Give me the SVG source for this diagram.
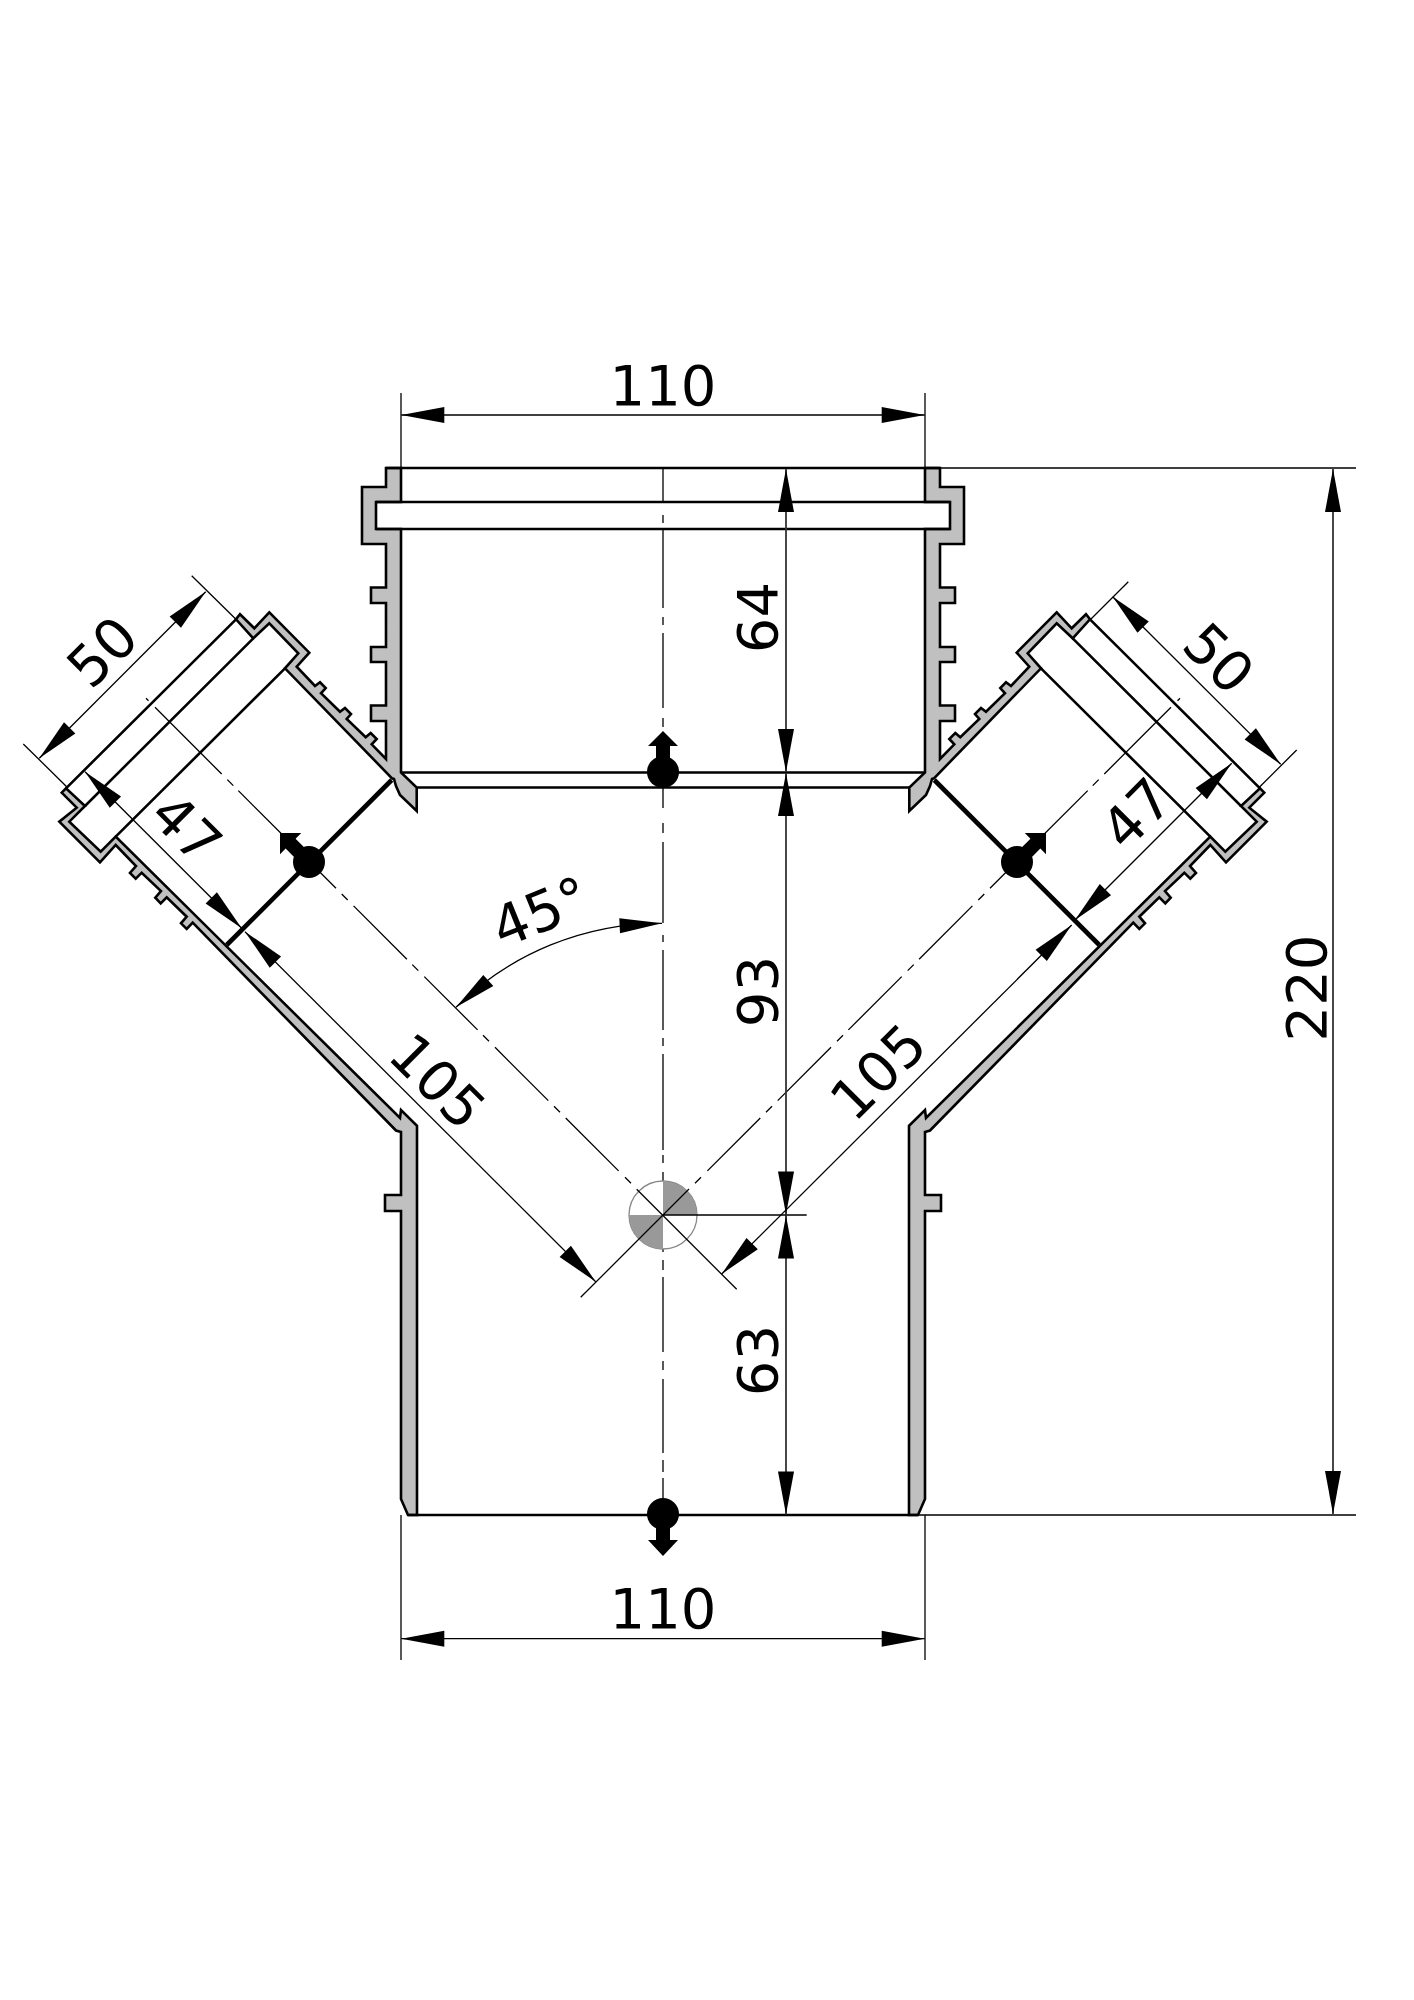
<svg xmlns="http://www.w3.org/2000/svg" xmlns:xlink="http://www.w3.org/1999/xlink" width="1414" height="2000" viewBox="0 0 1414 2000">
<style>
.wall{fill:#c0c0c0;stroke:#000;stroke-width:2.6;stroke-linejoin:miter}
.edge{fill:none;stroke:#000;stroke-width:2.6}
.bold{fill:none;stroke:#000;stroke-width:4.6}
.axis{fill:none;stroke:#000;stroke-width:1.3}
.thin{fill:none;stroke:#000;stroke-width:1.3}
.dima{fill:none;stroke:#000;stroke-width:1.3;marker-start:url(#arr);marker-end:url(#arr)}
.dimv{fill:none;stroke:#333;stroke-width:1.8;marker-start:url(#arr);marker-end:url(#arr)}
.lbl{font-family:"DejaVu Sans","Liberation Sans",sans-serif;font-size:56px;text-anchor:middle;fill:#000}
</style>
<defs>
<marker id="arr" markerUnits="userSpaceOnUse" viewBox="-44 -9 45 18" refX="0" refY="0" markerWidth="45" markerHeight="18" orient="auto-start-reverse"><path d="M0,0L-43,-8V8Z" fill="#000"/></marker>
<g id="mark"><circle cx="0" cy="0" r="16" fill="#000"/><path d="M-7,-10V-26H-15L0,-41L15,-26H7V-10Z" fill="#000"/></g>
<g id="half">
<path class="wall" d="M401,468H386V487H362V544H386V587.5H371V603H386V647H371V662H386V705.5H371V721H386V759L371.7,744.3L376.7,739L370.7,733L365.7,737.3L346.7,719L351,714L345,708L340,711.7L321,693.3L325.7,688L320,682.3L315,686L296.7,666.7L309.3,652.7L269.3,612.3L254.3,628.3L240,614.3L236,619.3L253.3,638.3L269.3,623.3L298.3,653.3L285,668.3L392,778.3L394,779L396,786L400,795L416.7,811V787.5L401,772.5V529H376V502H401Z"/>
<path class="wall" d="M61.7,792.7L76.7,807.7L59.3,821.7L100,862.3L115.7,845L136,866L130,873L135.7,878.7L141.7,872.7L161,891L155.3,897.7L160.7,903.3L166.7,897.3L186.7,916.7L181,923.3L186.7,929L192.7,922.7L396,1130.5L401,1132V1195H385V1211H401V1499L408,1515H417V1125.7L401,1110L400,1118L115.7,836.7L100.7,851.7L69.3,821.7L85,806L66,788.3Z"/>
<path class="edge" d="M236,619.3L66,788.3M253.3,638.3L85,806M285,668.3L115.7,836.7"/>
<path class="bold" d="M226.7,945L391.7,780"/>
<path class="axis" d="M146,698.3L148.5,700.8M155,707.3L221.7,774M227.3,779.6L233.3,785.6M238.3,790.6L300,852.3M320,872.3L336,888.3M341.7,894L347.7,900M353.6,905.9L406.9,959.2M412.3,964.6L418.3,970.6M424.3,976.6L477.6,1029.9M483,1035.3L489,1041.3M495,1047.3L548.3,1100.6M554,1106.3L560,1112.3M565.7,1118L618.6,1170.9M625,1177.3L631,1183.3"/>
</g>
</defs>
<rect width="1414" height="2000" fill="#fff"/>
<g id="body">
<use xlink:href="#half" href="#half"/>
<use xlink:href="#half" href="#half" transform="translate(1326,0) scale(-1,1)"/>
<path class="edge" d="M386,468H940M376,502H950M376,529H950M401,772.5H925M416.7,787.5H909.3M408,1515H918"/>
<path class="axis" d="M663,468V502M663,515V523M663,530V608M663,617V625M663,633V708M663,718V727M663,788V808M663,823V833M663,842V923M663,935V942M663,950V1030M663,1038V1046M663,1054V1150M663,1155V1163M663,1172V1252M663,1260V1270M663,1277V1352M663,1361V1370M663,1379V1453M663,1460V1472M663,1478V1500"/>
</g>
<g id="origin">
<circle cx="663" cy="1215" r="34" fill="#fff" stroke="#888" stroke-width="1.3"/>
<path d="M663,1215V1181A34,34 0 0 1 697,1215ZM663,1215V1249A34,34 0 0 1 629,1215Z" fill="#999"/>
</g>
<g id="connectors">
<use xlink:href="#mark" href="#mark" transform="translate(663,772)"/>
<use xlink:href="#mark" href="#mark" transform="translate(309,862) rotate(-45)"/>
<use xlink:href="#mark" href="#mark" transform="translate(1017,862) rotate(45)"/>
<circle cx="663" cy="1514" r="16" fill="#000"/>
<path d="M656,1524V1540H648L663,1556L678,1540H670V1524Z" fill="#000"/>
<path class="thin" d="M401,393V468M925,393V468M401,1515V1660M925,1515V1660"/>
<path class="dima" d="M401.3,415H924.7"/>
<path class="dima" d="M401.3,1638.7H924.7"/>
<path class="thin" d="M940,468H1356M918,1515H1356"/>
<path class="dimv" d="M1333,469V1514"/>
<path class="dimv" d="M786,469V772"/>
<path class="dimv" d="M786,773V1214.5"/>
<path class="dimv" d="M786,1215.5V1514.5"/>
<path class="thin" d="M191.7,575.7L236.7,620M23.3,744L66.7,786.7M1128.3,581.7L1090,620M1296.7,750L1258.3,788.3"/>
<path class="dima" d="M205.7,591.7L39.3,758.3"/>
<path class="dima" d="M1112.7,596.7L1280.7,764.3"/>
<path class="dima" d="M85,771.7L241.7,928.3"/>
<path class="dima" d="M245,931.7L595.7,1281.7"/>
<path class="dima" d="M1231.7,763.3L1075,920"/>
<path class="dima" d="M1071.7,925L721.7,1274"/>
<path class="thin" d="M580.7,1297.3L689,1189M636.7,1189.3L736.7,1289.3M663,1215H806.7"/>
<path class="thin" d="M662,923.3A292,292 0 0 0 456,1007.3"/>
<path d="M662,923.3L619.3,918.3L620,933.3Z" fill="#000"/>
<path d="M456,1007.3L483.3,975L493.3,986Z" fill="#000"/>
</g>
<g id="labels">
<text class="lbl" x="663" y="404.5">110</text>
<text class="lbl" x="663" y="1627.5">110</text>
<text class="lbl" transform="translate(758,617.5) rotate(-90)" y="19">64</text>
<text class="lbl" transform="translate(758,991.5) rotate(-90)" y="19">93</text>
<text class="lbl" transform="translate(758,1360.5) rotate(-90)" y="19">63</text>
<text class="lbl" transform="translate(1306,988) rotate(-90)" y="20">220</text>
<text class="lbl" transform="translate(102,651.7) rotate(-45)" y="20">50</text>
<text class="lbl" transform="translate(1219,658) rotate(45)" y="20">50</text>
<text class="lbl" transform="translate(186.7,828.3) rotate(45)" y="20">47</text>
<text class="lbl" transform="translate(1136.3,813.3) rotate(-45)" y="20">47</text>
<text class="lbl" transform="translate(437.7,1081) rotate(45)" y="20">105</text>
<text class="lbl" transform="translate(878,1071.7) rotate(-45)" y="20">105</text>
<text class="lbl" transform="translate(540.3,911.7) rotate(-22)" y="20">45°</text>
</g>
</svg>
